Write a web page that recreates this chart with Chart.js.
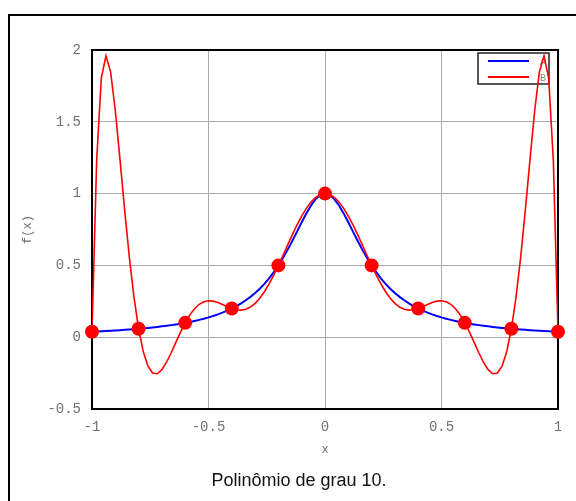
<!DOCTYPE html>
<html>
<head>
<meta charset="utf-8">
<script src="https://cdn.jsdelivr.net/npm/chart.js@4/dist/chart.umd.min.js"></script>
<style>
html,body{margin:0;padding:0;background:#fff;}
#wrap{position:relative;width:576px;height:501px;overflow:hidden;background:#fff;}
#frame{position:absolute;left:8px;top:14px;width:700px;height:700px;border-left:2px solid #000;border-top:2px solid #000;}
#c{position:absolute;left:0;top:0;}
#caption{position:absolute;left:0;top:470px;width:598px;text-align:center;font-family:"Liberation Sans",Arial,sans-serif;font-size:18px;line-height:20px;color:#111;}
</style>
</head>
<body>
<div id="wrap">
  <div id="frame"></div>
  <canvas id="c" width="576" height="501"></canvas>
  <div id="caption">Polinômio de grau 10.</div>
</div>
<script>
// sample abscissas
const xs = [-1,-0.98,-0.96,-0.94,-0.92,-0.9,-0.88,-0.86,-0.84,-0.82,-0.8,-0.78,-0.76,-0.74,-0.72,-0.7,-0.68,-0.66,-0.64,-0.62,-0.6,-0.58,-0.56,-0.54,-0.52,-0.5,-0.48,-0.46,-0.44,-0.42,-0.4,-0.38,-0.36,-0.34,-0.32,-0.3,-0.28,-0.26,-0.24,-0.22,-0.2,-0.18,-0.16,-0.14,-0.12,-0.1,-0.08,-0.06,-0.04,-0.02,0,0.02,0.04,0.06,0.08,0.1,0.12,0.14,0.16,0.18,0.2,0.22,0.24,0.26,0.28,0.3,0.32,0.34,0.36,0.38,0.4,0.42,0.44,0.46,0.48,0.5,0.52,0.54,0.56,0.58,0.6,0.62,0.64,0.66,0.68,0.7,0.72,0.74,0.76,0.78,0.8,0.82,0.84,0.86,0.88,0.9,0.92,0.94,0.96,0.98,1];
// series A (function)
const valuesA = [0.03846,0.03998,0.04160,0.04331,0.04513,0.04706,0.04912,0.05131,0.05365,0.05615,0.05882,0.06169,0.06477,0.06807,0.07163,0.07547,0.07962,0.08410,0.08897,0.09425,0.1,0.10627,0.11312,0.12063,0.12887,0.13793,0.14793,0.15898,0.17123,0.18484,0.2,0.21692,0.23585,0.25707,0.28090,0.30769,0.33784,0.37175,0.40984,0.45249,0.5,0.55249,0.60976,0.67114,0.73529,0.8,0.86207,0.91743,0.96154,0.99010,1,0.99010,0.96154,0.91743,0.86207,0.8,0.73529,0.67114,0.60976,0.55249,0.5,0.45249,0.40984,0.37175,0.33784,0.30769,0.28090,0.25707,0.23585,0.21692,0.2,0.18484,0.17123,0.15898,0.14793,0.13793,0.12887,0.12063,0.11312,0.10627,0.1,0.09425,0.08897,0.08410,0.07962,0.07547,0.07163,0.06807,0.06477,0.06169,0.05882,0.05615,0.05365,0.05131,0.04912,0.04706,0.04513,0.04331,0.04160,0.03998,0.03846];
// series B (degree-10 polynomial)
const valuesB = [0.03846,1.23031,1.80438,1.95896,1.84584,1.57872,1.24018,0.88807,0.56044,0.28022,0.05882,-0.10072,-0.20130,-0.24961,-0.25460,-0.22620,-0.17433,-0.10832,-0.03632,0.03487,0.1,0.15536,0.19873,0.22923,0.24715,0.25375,0.25102,0.24145,0.22784,0.21309,0.2,0.19116,0.18878,0.19462,0.20991,0.23535,0.27103,0.31651,0.37083,0.43260,0.5,0.57095,0.64316,0.71423,0.78175,0.84341,0.89708,0.94090,0.97335,0.99328,1,0.99328,0.97335,0.94090,0.89708,0.84341,0.78175,0.71423,0.64316,0.57095,0.5,0.43260,0.37083,0.31651,0.27103,0.23535,0.20991,0.19462,0.18878,0.19116,0.2,0.21309,0.22784,0.24145,0.25102,0.25375,0.24715,0.22923,0.19873,0.15536,0.1,0.03487,-0.03632,-0.10832,-0.17433,-0.22620,-0.25460,-0.24961,-0.20130,-0.10072,0.05882,0.28022,0.56044,0.88807,1.24018,1.57872,1.84584,1.95896,1.80438,1.23031,0.03846];
// interpolation nodes
const nodeX = [-1,-0.8,-0.6,-0.4,-0.2,0,0.2,0.4,0.6,0.8,1];
const nodeY = [0.03846,0.05882,0.1,0.2,0.5,1,0.5,0.2,0.1,0.05882,0.03846];
const seriesLabels = ['A','B'];

const monoFamily = '"Liberation Mono","DejaVu Sans Mono",monospace';
const tickFont = {family:monoFamily, size:14};
const titleFont = {family:monoFamily, size:12};
const tickColor = '#707070';
const fmt = v => String(Math.round(v * 10) / 10);

const framePlugin = {
  id:'framePlugin',
  beforeDatasetsDraw(chart){
    const {ctx, chartArea:a} = chart;
    ctx.save();
    ctx.strokeStyle = '#000';
    ctx.lineWidth = 2;
    ctx.strokeRect(a.left, a.top, a.right - a.left, a.bottom - a.top);
    // legend box
    const lx = a.right - 80, ly = a.top + 3, lw = 71, lh = 31;
    ctx.fillStyle = '#fff';
    ctx.fillRect(lx, ly, lw, lh);
    ctx.lineWidth = 1.5;
    ctx.strokeStyle = '#222';
    ctx.strokeRect(lx, ly, lw, lh);
    const cols = ['#0000ff','#ff0000'];
    ctx.font = '10px ' + monoFamily;
    ctx.textAlign = 'center';
    ctx.textBaseline = 'middle';
    for (let i=0;i<2;i++){
      const yy = ly + 8 + i*16;
      ctx.strokeStyle = cols[i];
      ctx.lineWidth = 2;
      ctx.beginPath();
      ctx.moveTo(lx + 10, yy);
      ctx.lineTo(lx + 51, yy);
      ctx.stroke();
      ctx.fillStyle = '#888';
      ctx.fillText(seriesLabels[i], lx + 65, yy + 1);
    }
    ctx.restore();
  }
};

new Chart(document.getElementById('c'), {
  type:'scatter',
  data:{
    datasets:[
      {label:seriesLabels[0], data:xs.map((x,i)=>({x, y:valuesA[i]})), showLine:true, borderColor:'#0000ff', borderWidth:2, pointRadius:0, order:2},
      {label:seriesLabels[1], data:xs.map((x,i)=>({x, y:valuesB[i]})), showLine:true, borderColor:'#ff0000', borderWidth:1.6, pointRadius:0, order:1},
      {label:'nodes', data:nodeX.map((x,i)=>({x, y:nodeY[i]})), showLine:false, pointRadius:7, pointHoverRadius:7, backgroundColor:'#ff0000', borderColor:'#ff0000', borderWidth:0, clip:false, order:0}
    ]
  },
  options:{
    responsive:false,
    animation:false,
    events:[],
    layout:{padding:{left:0, top:50, right:18, bottom:0}},
    plugins:{legend:{display:false}, tooltip:{enabled:false}},
    scales:{
      x:{
        type:'linear', min:-1, max:1,
        afterFit(s){ s.height = 92; },
        ticks:{stepSize:0.5, padding:10, color:tickColor, font:tickFont, maxRotation:0, callback:fmt},
        grid:{color:'#aaa', lineWidth:1, drawTicks:false},
        border:{display:false},
        title:{display:true, text:'x', color:tickColor, font:titleFont, padding:{top:0, bottom:44}}
      },
      y:{
        type:'linear', min:-0.5, max:2,
        afterFit(s){ s.width = 92; },
        ticks:{stepSize:0.5, padding:11, color:tickColor, font:tickFont, callback:fmt},
        grid:{color:'#aaa', lineWidth:1, drawTicks:false},
        border:{display:false},
        title:{display:true, text:'f(x)', color:tickColor, font:titleFont, padding:{top:21, bottom:0}}
      }
    }
  },
  plugins:[framePlugin]
});
</script>
</body>
</html>
